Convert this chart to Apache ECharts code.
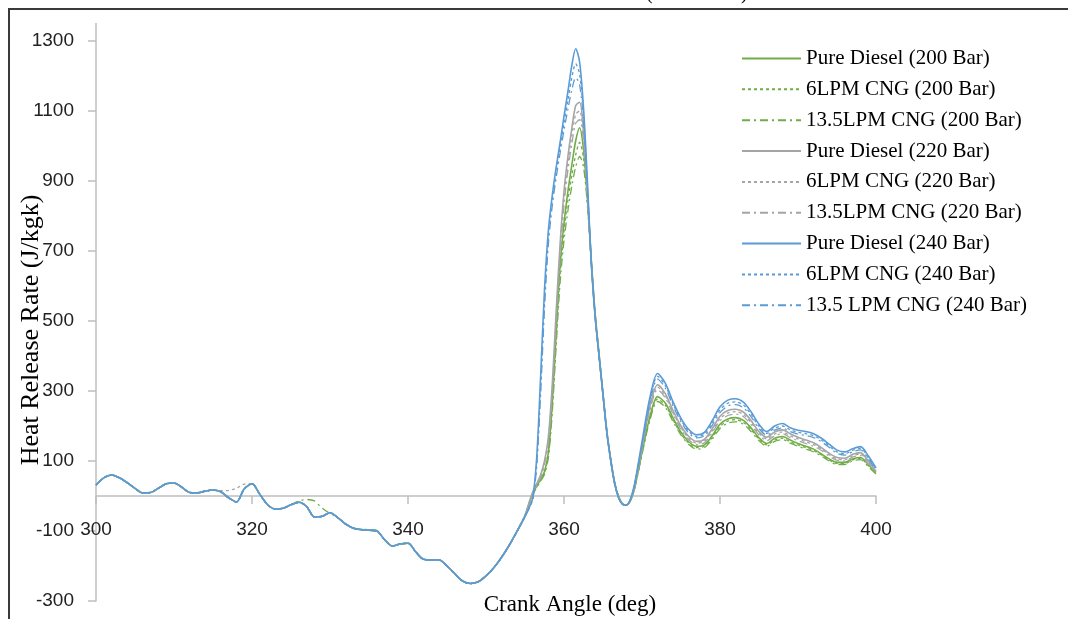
<!DOCTYPE html>
<html>
<head>
<meta charset="utf-8">
<title>Heat Release Rate</title>
<script src="https://cdn.jsdelivr.net/npm/echarts@6/dist/echarts.min.js"></script>
<style>
  html, body {
    margin: 0;
    padding: 0;
    background: #ffffff;
  }

  #chart {
    width: 1068px;
    height: 619px;
  }
</style>
</head>
<body>
<div id="chart"></div>
<script>
// crank angle samples (deg), half steps around the main peak
const xAngles = [
  300, 301, 302, 303, 304, 305, 306, 307, 308, 309,
  310, 311, 312, 313, 314, 315, 316, 317, 318, 319,
  320, 321, 322, 323, 324, 325, 326, 327, 328, 329,
  330, 331, 332, 333, 334, 335, 336, 337, 338, 339,
  340, 341, 342, 343, 344, 345, 346, 347, 348, 349,
  350, 351, 352, 353, 354,
  355, 355.5, 356, 356.5, 357, 357.5, 358, 358.5, 359, 359.5,
  360, 360.5, 361, 361.5, 362, 362.5, 363, 363.5, 364, 364.5,
  365, 365.5, 366, 366.5, 367, 367.5, 368, 368.5, 369, 369.5,
  370,
  371, 372, 373, 374, 375, 376, 377, 378, 379, 380,
  381, 382, 383, 384, 385, 386, 387, 388, 389, 390,
  391, 392, 393, 394, 395, 396, 397, 398, 399, 400
]

const yTicks = [-300, -100, 100, 300, 500, 700, 900, 1100, 1300]

// 300..354 deg, all cases nearly on top of each other
const early = [
  31, 52, 60, 52, 38, 22, 9, 10, 22, 35,
  37, 25, 10, 9, 14, 17, 12, -5, -17, 20,
  35, 5, -25, -37, -35, -25, -18, -30, -60, -58,
  -48, -62, -80, -92, -96, -98, -100, -125, -143, -137,
  -135, -160, -181, -183, -183, -200, -222, -243, -250, -245,
  -228, -205, -175, -140, -100
]
const earlyGray6 = [
  31, 52, 60, 52, 38, 22, 9, 10, 22, 35,
  37, 25, 10, 9, 14, 17, 15, 16, 22, 34,
  35, 5, -25, -37, -35, -25, -18, -30, -60, -58,
  -48, -62, -80, -92, -96, -98, -100, -125, -143, -137,
  -135, -160, -181, -183, -183, -200, -222, -243, -250, -245,
  -228, -205, -175, -140, -100
]
const earlyGreen13 = [
  31, 52, 60, 52, 38, 22, 9, 10, 22, 35,
  37, 25, 10, 9, 14, 17, 12, -5, -17, 20,
  35, 5, -25, -37, -35, -25, -14, -10, -14, -35,
  -50, -62, -80, -92, -95, -96, -98, -125, -143, -137,
  -135, -160, -181, -183, -183, -200, -222, -243, -250, -245,
  -228, -205, -175, -140, -100
]

// 355..400 deg per case
const green200Pure = [
  -58, -25, 8, 28, 48, 70, 125, 270, 470, 660,
  780, 870, 945, 1015, 1052, 990, 850, 675, 520, 405,
  292, 185, 104, 38, -2, -22, -26, -14, 18, 70,
  125,
  225, 284, 265, 222, 182, 155, 142, 146, 172, 205,
  220, 224, 216, 194, 166, 150, 165, 170, 160, 150,
  142, 134, 120, 106, 96, 96, 106, 110, 90, 67
]
const green200Six = [
  -58, -26, 6, 26, 45, 66, 118, 255, 450, 635,
  755, 845, 915, 975, 1010, 965, 840, 672, 520, 405,
  292, 185, 104, 38, -2, -22, -26, -14, 17, 68,
  122,
  220, 277, 259, 217, 178, 151, 138, 142, 167, 199,
  214, 218, 210, 189, 162, 146, 160, 165, 155, 146,
  138, 130, 117, 103, 93, 93, 103, 107, 87, 65
]
const green200Thirteen = [
  -58, -27, 4, 24, 42, 62, 110, 240, 430, 610,
  730, 815, 885, 940, 970, 940, 830, 670, 520, 405,
  292, 185, 104, 38, -2, -22, -26, -14, 16, 66,
  119,
  215, 270, 253, 212, 174, 147, 134, 138, 162, 193,
  208, 212, 205, 184, 158, 142, 156, 161, 151, 142,
  134, 126, 114, 100, 90, 90, 100, 104, 84, 63
]
const gray220Pure = [
  -55, -20, 12, 35, 60, 100, 170, 320, 530, 720,
  870, 970, 1050, 1115, 1125, 1040, 870, 670, 512, 398,
  288, 180, 100, 35, -4, -23, -26, -12, 24, 80,
  140,
  255, 318, 292, 243, 200, 170, 156, 162, 192, 228,
  244, 248, 240, 215, 184, 168, 183, 189, 178, 168,
  160, 152, 138, 122, 110, 108, 119, 124, 100, 70
]
const gray220Six = [
  -55, -22, 10, 32, 56, 95, 160, 305, 510, 700,
  850, 950, 1030, 1090, 1100, 1025, 862, 668, 512, 398,
  288, 180, 100, 35, -4, -23, -26, -12, 22, 77,
  136,
  249, 311, 286, 238, 195, 165, 151, 157, 186, 221,
  237, 241, 233, 209, 179, 163, 177, 183, 172, 163,
  155, 147, 134, 118, 106, 104, 115, 120, 96, 68
]
const gray220Thirteen = [
  -55, -23, 8, 30, 52, 90, 150, 290, 490, 680,
  830, 930, 1005, 1065, 1075, 1010, 855, 665, 512, 398,
  288, 180, 100, 35, -4, -23, -26, -12, 20, 74,
  132,
  243, 304, 280, 233, 190, 161, 147, 152, 181, 215,
  230, 234, 227, 203, 174, 158, 172, 178, 167, 158,
  150, 142, 130, 114, 102, 100, 111, 116, 92, 66
]
const blue240Pure = [
  -58, -35, -5, 110, 340, 590, 760, 860, 940, 1010,
  1085, 1155, 1230, 1278, 1240, 1110, 900, 665, 510, 400,
  290, 180, 100, 35, -5, -24, -26, -10, 30, 90,
  155,
  280, 350, 322, 268, 222, 190, 175, 182, 215, 255,
  274, 278, 268, 240, 205, 184, 200, 207, 195, 188,
  184, 178, 165, 148, 131, 126, 135, 141, 115, 80
]
const blue240Six = [
  -58, -36, -8, 95, 310, 560, 740, 845, 925, 995,
  1065, 1130, 1195, 1235, 1205, 1090, 890, 665, 510, 398,
  288, 180, 100, 35, -5, -24, -26, -10, 28, 86,
  150,
  272, 342, 315, 262, 217, 185, 170, 177, 208, 246,
  265, 269, 260, 233, 199, 179, 194, 200, 189, 182,
  178, 172, 160, 143, 126, 121, 130, 136, 110, 77
]
const blue240Thirteen = [
  -58, -37, -10, 85, 290, 535, 720, 830, 910, 980,
  1045, 1105, 1160, 1195, 1175, 1070, 880, 665, 510, 397,
  287, 180, 100, 35, -5, -24, -26, -10, 26, 82,
  145,
  265, 334, 308, 256, 212, 180, 166, 172, 202, 238,
  257, 261, 252, 226, 193, 174, 188, 194, 184, 177,
  173, 167, 155, 139, 122, 117, 126, 132, 106, 75
]

const GREEN = '#70ad47'
const GRAY = '#a5a5a5'
const BLUE = '#5b9bd5'
const DOTTED = [3, 3]
const DASH_DOT = [8, 4, 2, 4]

const cases = [
  {name: 'Pure Diesel (200 Bar)', early: early, tail: green200Pure, color: GREEN, type: 'solid'},
  {name: '6LPM CNG (200 Bar)', early: early, tail: green200Six, color: GREEN, type: DOTTED},
  {name: '13.5LPM CNG (200 Bar)', early: earlyGreen13, tail: green200Thirteen, color: GREEN, type: DASH_DOT},
  {name: 'Pure Diesel (220 Bar)', early: early, tail: gray220Pure, color: GRAY, type: 'solid'},
  {name: '6LPM CNG (220 Bar)', early: earlyGray6, tail: gray220Six, color: GRAY, type: DOTTED},
  {name: '13.5LPM CNG (220 Bar)', early: early, tail: gray220Thirteen, color: GRAY, type: DASH_DOT},
  {name: 'Pure Diesel (240 Bar)', early: early, tail: blue240Pure, color: BLUE, type: 'solid'},
  {name: '6LPM CNG (240 Bar)', early: early, tail: blue240Six, color: BLUE, type: DOTTED},
  {name: '13.5 LPM CNG (240 Bar)', early: early, tail: blue240Thirteen, color: BLUE, type: DASH_DOT}
]

const chart = echarts.init(document.getElementById('chart'))

const series = cases.map(c => {
  const values = c.early.concat(c.tail)
  return {
    name: c.name,
    type: 'line',
    smooth: 0.3,
    symbol: 'none',
    showSymbol: false,
    data: xAngles.map((x, i) => [x, values[i]]),
    itemStyle: {color: c.color},
    lineStyle: {
      color: c.color,
      width: c.type === 'solid' ? 1.6 : 1.3,
      type: c.type
    }
  }
})

chart.setOption({
  animation: false,
  backgroundColor: '#ffffff',
  textStyle: {
    fontFamily: 'Liberation Sans'
  },
  graphic: [
    {
      type: 'rect',
      z: -10,
      shape: {x: 9, y: 9, width: 1200, height: 800},
      style: {fill: 'none', stroke: '#3a3a3a', lineWidth: 2}
    },
    {
      type: 'text',
      left: 646,
      top: -16,
      style: {text: '(', font: '20px "Liberation Serif"', fill: '#000'}
    },
    {
      type: 'text',
      left: 741,
      top: -16,
      style: {text: ')', font: '20px "Liberation Serif"', fill: '#000'}
    },
    {
      // axis titles sit off-centre in the original, so they are placed by hand
      type: 'text',
      x: 31,
      y: 330,
      rotation: Math.PI / 2,
      style: {
        text: 'Heat Release Rate (J/kgk)',
        font: '26px "Liberation Serif"',
        fill: '#000',
        align: 'center',
        verticalAlign: 'middle'
      }
    },
    {
      type: 'text',
      x: 570,
      y: 605,
      style: {
        text: 'Crank Angle (deg)',
        font: '23px "Liberation Serif"',
        fill: '#000',
        align: 'center',
        verticalAlign: 'middle'
      }
    }
  ],
  legend: {
    orient: 'vertical',
    left: 741,
    top: 48,
    padding: 0,
    itemWidth: 59,
    itemHeight: 14,
    itemGap: 9.85,
    itemStyle: {opacity: 0},
    textStyle: {
      fontFamily: 'Liberation Serif',
      fontSize: 21,
      lineHeight: 20,
      color: '#000000'
    },
    data: cases.map(c => c.name)
  },
  grid: {
    left: 96,
    right: 192,
    top: 23.5,
    bottom: 18,
    containLabel: false,
    outerBoundsMode: 'none'
  },
  xAxis: {
    type: 'value',
    min: 300,
    max: 400,
    interval: 20,
    // axis drawn on the zero line: 0 sits 105px above the grid bottom
    offset: -105,
    axisLine: {
      onZero: false,
      lineStyle: {color: '#bfbfbf', width: 1.5}
    },
    axisTick: {
      length: 8,
      lineStyle: {color: '#bfbfbf', width: 1.5}
    },
    axisLabel: {
      margin: 24,
      fontSize: 19,
      color: '#222222'
    },
    splitLine: {show: false}
  },
  yAxis: {
    type: 'value',
    min: -300,
    max: 1350,
    axisLine: {
      show: true,
      lineStyle: {color: '#bfbfbf', width: 1.5}
    },
    axisTick: {
      show: true,
      length: 8,
      customValues: yTicks,
      lineStyle: {color: '#bfbfbf', width: 1.5}
    },
    axisLabel: {
      margin: 22,
      fontSize: 19,
      color: '#222222',
      customValues: yTicks,
      formatter: v => String(v)
    },
    splitLine: {show: false}
  },
  series: series
})
</script>
</body>
</html>
